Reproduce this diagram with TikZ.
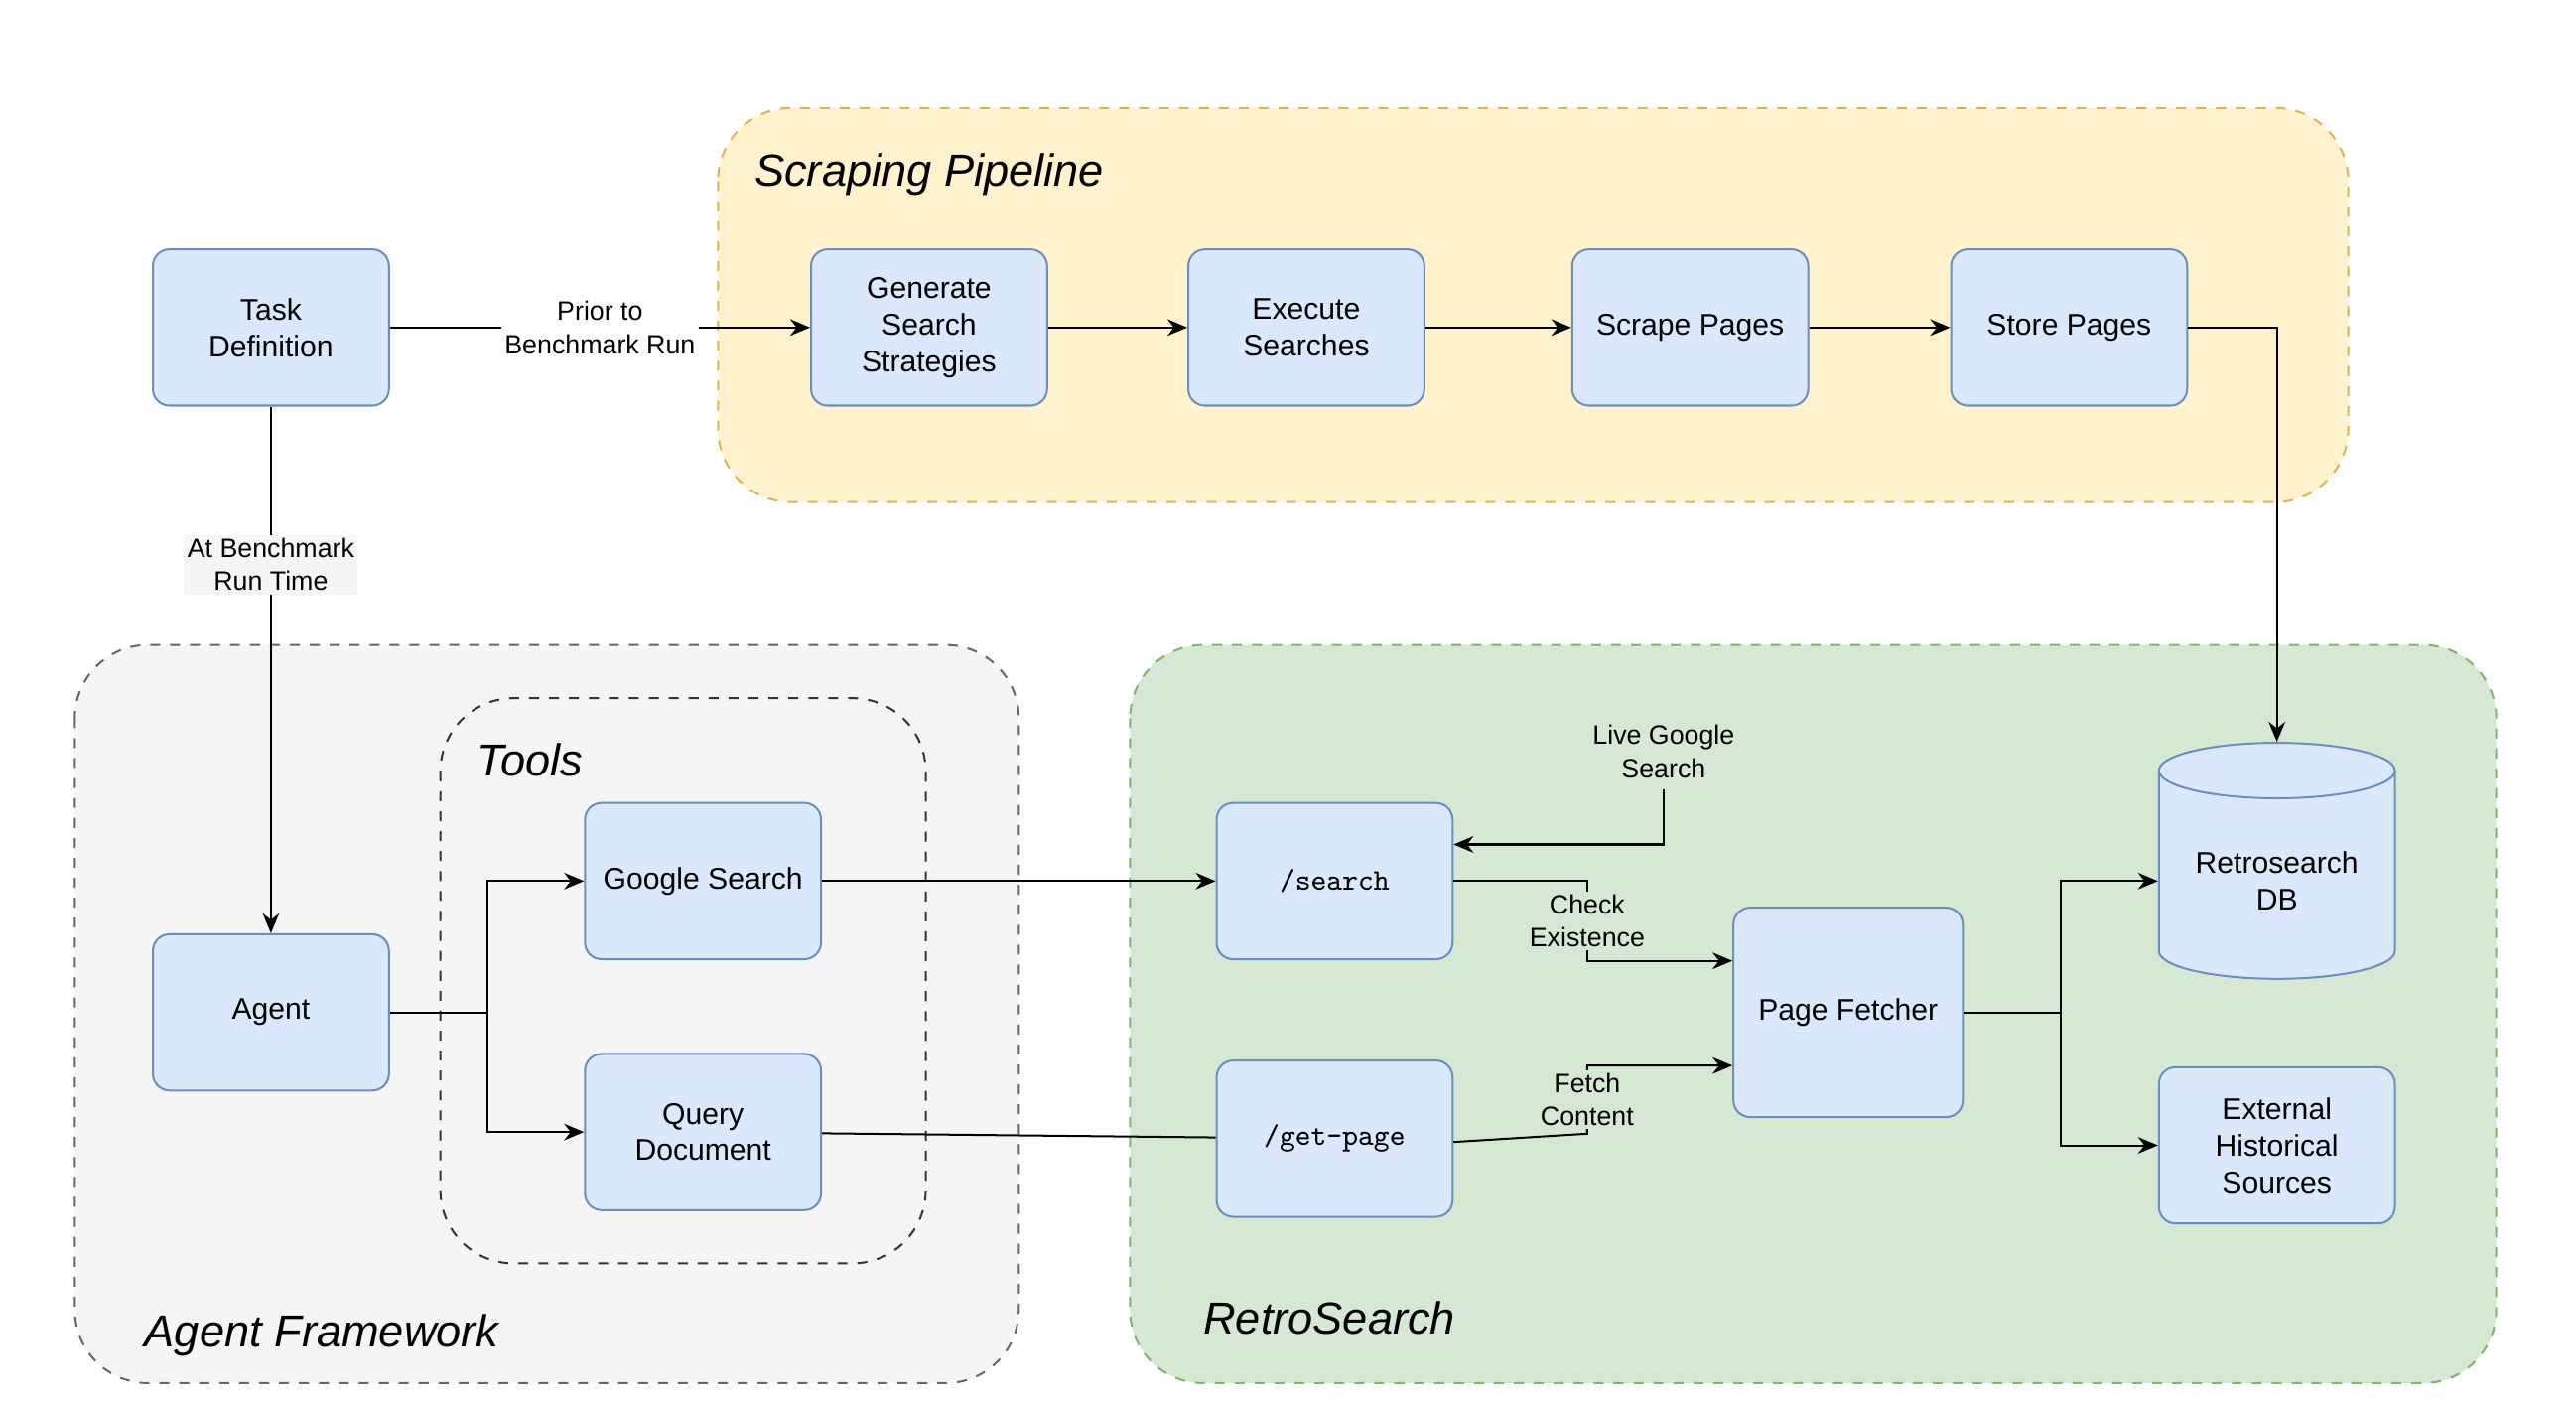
\documentclass[tikz,border=0pt]{standalone}
\usepackage{fontspec}
\setmainfont{Liberation Sans}
\usetikzlibrary{shapes.geometric,arrows.meta}
\definecolor{boxfill}{HTML}{DAE8FC}
\definecolor{boxline}{HTML}{6C8EBF}
\definecolor{yelfill}{HTML}{FFF2CC}
\definecolor{yelline}{HTML}{D6B656}
\definecolor{grnfill}{HTML}{D5E8D4}
\definecolor{grnline}{HTML}{82B366}
\definecolor{gryfill}{HTML}{F5F5F5}
\tikzstyle{block} = [draw=boxline, fill=boxfill, rounded corners=5pt, minimum width=71pt, minimum height=47pt, align=center, font=\fontsize{9}{11}\selectfont, line width=0.6pt]
\tikzstyle{region} = [dashed, rounded corners=22pt, line width=0.6pt]
\tikzstyle{title} = [font=\fontsize{13.5}{16}\selectfont\itshape, anchor=west]
\tikzstyle{lbl} = [font=\fontsize{8}{10}\selectfont, align=center, inner sep=1pt]
\tikzstyle{line} = [draw, -{Stealth[length=6pt,width=5pt]}, line width=0.6pt]
\begin{document}
\begin{tikzpicture}[x=0.5pt, y=-0.5pt]
		            \useasboundingbox (0,0) rectangle (1550,845);
		                % regions
		                \draw [region, fill=yelfill, draw=yelline] (432,65) rectangle (1413,302);
		                \draw [region, fill=gryfill, draw=black!60] (45,388) rectangle (613,832);
		                \draw [region, draw=black!80] (265,420) rectangle (557,760);
		                \draw [region, fill=grnfill, draw=grnline] (680,388) rectangle (1502,832);
		                \node [title] at (447,105) {Scraping Pipeline};
		                \node [title] at (280,457) {Tools};
		                \node [title] at (80,803) {Agent Framework};
		                \node [title] at (717,793) {RetroSearch};
		                % blocks
		                \node [block] (task) at (163,197) {Task\\Definition};
		                \node [block] (gen) at (559,197) {Generate\\Search\\Strategies};
		                \node [block] (exec) at (786,197) {Execute\\Searches};
		                \node [block] (scrape) at (1017,197) {Scrape Pages};
		                \node [block] (store) at (1245,197) {Store Pages};
		                \node [block] (agent) at (163,609) {Agent};
		                \node [block] (google) at (423,530) {Google Search};
		                \node [block] (query) at (423,681) {Query\\Document};
		                \node [block, font=\fontsize{9}{11}\ttfamily] (search) at (803,530) {/search};
		                \node [block, font=\fontsize{9}{11}\ttfamily] (getpage) at (803,685) {/get-page};
		                \node [block, minimum width=69pt, minimum height=63pt] (fetcher) at (1112,609) {Page Fetcher};
		                \node [block, rounded corners=0pt, shape=cylinder, shape border rotate=90, aspect=0.3, minimum width=71pt, minimum height=71pt] (db) at (1370,530) {Retrosearch\\DB};
		                \node [block] (ext) at (1370,689) {External\\Historical\\Sources};
		                \coordinate (live) at (1001,475);
		                % connectors
		                \path [line] (task) -- node [lbl, fill=white] {Prior to\\Benchmark Run} (gen);
		                \path [line] (gen) -- (exec);
		                \path [line] (exec) -- (scrape);
		                \path [line] (scrape) -- (store);
		                \path [line] (store) -| (db);
		                \path [line] (task) -- node [lbl, fill=gryfill, pos=0.3] {At Benchmark\\Run Time} (agent);
		                \path [line] (agent.east) -- (293,609) |- (google);
		                \path [line] (agent.east) -- (293,609) |- (query);
		                \path [line] (google) -- (search);
		                \draw [line width=0.6pt] (query) -- (getpage);
		                \node [lbl] at (1001,452) {Live Google\\Search};
		                \path [line] (live) |- ([yshift=11pt]search.east);
		                \path [line] (search.east) -- (955,530) -- node [lbl, fill=grnfill] {Check\\Existence} (955,578) -- (fetcher.west |- 0,578);
		                \path [line] ([yshift=-1pt]getpage.east) -- (955,682) -- node [lbl, fill=grnfill] {Fetch\\Content} (955,641) -- (fetcher.west |- 0,641);
		                \path [line] (fetcher.east) -- (1240,609) |- (db.west);
		                \path [line] (fetcher.east) -- (1240,609) |- (ext);
		            \end{tikzpicture}
\end{document}
